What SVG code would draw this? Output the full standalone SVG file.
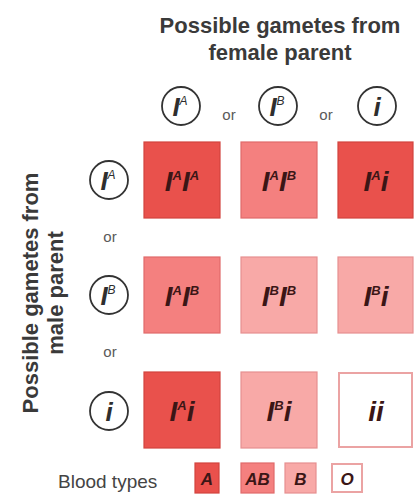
<svg xmlns="http://www.w3.org/2000/svg" width="414" height="495" viewBox="0 0 414 495">
  <style>
    .hdr{font-family:"Liberation Sans",Arial,sans-serif;font-size:22px;font-weight:bold;fill:#3a3a3a;text-anchor:middle}
    .or{font-family:"Liberation Sans",Arial,sans-serif;font-size:15px;fill:#5a5a5a;text-anchor:middle}
    .gam circle{fill:#fff;stroke:#333;stroke-width:1.8}
    .gam text{font-family:"Liberation Sans",Arial,sans-serif;font-style:italic;font-weight:bold;font-size:26px;fill:#2e2e2e;text-anchor:middle}
    .gam .sup{font-size:12px;font-weight:normal}
    .cell text{font-family:"Liberation Sans",Arial,sans-serif;font-style:italic;font-weight:bold;font-size:28px;fill:#3b1616;text-anchor:middle}
    .cell .s{font-size:13px}
    .tA rect{fill:#e9514c;stroke:#d3443e;stroke-width:1.2}
    .tAB rect{fill:#f4807f;stroke:#e06a6a;stroke-width:1.2}
    .tB rect{fill:#f8a9a7;stroke:#e69090;stroke-width:1.2}
    .tO rect{fill:#ffffff;stroke:#eba3a3;stroke-width:2}
    .key{font-family:"Liberation Sans",Arial,sans-serif;font-style:italic;font-weight:bold;font-size:17px;fill:#3b1616;text-anchor:middle}
    .lbl{font-family:"Liberation Sans",Arial,sans-serif;font-size:19px;fill:#444}
  </style>
  <rect width="414" height="495" fill="#fff"/>

  <!-- column heading -->
  <g id="female-heading">
    <text class="hdr" x="280" y="33">Possible gametes from</text>
    <text class="hdr" x="280" y="60">female parent</text>
  </g>

  <!-- row heading (rotated) -->
  <g id="male-heading" transform="translate(38,293) rotate(-90)">
    <text class="hdr" x="0" y="0">Possible gametes from</text>
    <text class="hdr" x="0" y="25">male parent</text>
  </g>

  <!-- female gametes -->
  <g id="f-IA" class="gam">
    <circle cx="181" cy="106" r="19"/>
    <text x="180" y="116">I<tspan class="sup" dy="-11">A</tspan></text>
  </g>
  <text class="or" x="229" y="120">or</text>
  <g id="f-IB" class="gam">
    <circle cx="278" cy="106" r="19"/>
    <text x="277" y="116">I<tspan class="sup" dy="-11">B</tspan></text>
  </g>
  <text class="or" x="326" y="120">or</text>
  <g id="f-i" class="gam">
    <circle cx="377" cy="106" r="19"/>
    <text x="377" y="116">i</text>
  </g>

  <!-- male gametes -->
  <g id="m-IA" class="gam">
    <circle cx="109" cy="180" r="19"/>
    <text x="108" y="190">I<tspan class="sup" dy="-11">A</tspan></text>
  </g>
  <text class="or" x="110" y="242">or</text>
  <g id="m-IB" class="gam">
    <circle cx="109" cy="295" r="19"/>
    <text x="108" y="305">I<tspan class="sup" dy="-11">B</tspan></text>
  </g>
  <text class="or" x="110" y="357">or</text>
  <g id="m-i" class="gam">
    <circle cx="109" cy="411" r="19"/>
    <text x="109" y="421">i</text>
  </g>

  <!-- Punnett square -->
  <g id="c11" class="cell tA">
    <rect x="144" y="142" width="76" height="76"/>
    <text x="182" y="191">I<tspan class="s" dy="-11">A</tspan><tspan dy="11">I</tspan><tspan class="s" dy="-11">A</tspan></text>
  </g>
  <g id="c12" class="cell tAB">
    <rect x="241" y="142" width="76" height="76"/>
    <text x="279" y="191">I<tspan class="s" dy="-11">A</tspan><tspan dy="11">I</tspan><tspan class="s" dy="-11">B</tspan></text>
  </g>
  <g id="c13" class="cell tA">
    <rect x="338" y="142" width="75" height="76"/>
    <text x="376" y="191">I<tspan class="s" dy="-11">A</tspan><tspan dy="11">i</tspan></text>
  </g>

  <g id="c21" class="cell tAB">
    <rect x="144" y="257" width="76" height="76"/>
    <text x="182" y="306">I<tspan class="s" dy="-11">A</tspan><tspan dy="11">I</tspan><tspan class="s" dy="-11">B</tspan></text>
  </g>
  <g id="c22" class="cell tB">
    <rect x="241" y="257" width="76" height="76"/>
    <text x="279" y="306">I<tspan class="s" dy="-11">B</tspan><tspan dy="11">I</tspan><tspan class="s" dy="-11">B</tspan></text>
  </g>
  <g id="c23" class="cell tB">
    <rect x="338" y="257" width="75" height="76"/>
    <text x="376" y="306">I<tspan class="s" dy="-11">B</tspan><tspan dy="11">i</tspan></text>
  </g>

  <g id="c31" class="cell tA">
    <rect x="144" y="372" width="76" height="76"/>
    <text x="182" y="421">I<tspan class="s" dy="-11">A</tspan><tspan dy="11">i</tspan></text>
  </g>
  <g id="c32" class="cell tB">
    <rect x="241" y="372" width="76" height="76"/>
    <text x="279" y="421">I<tspan class="s" dy="-11">B</tspan><tspan dy="11">i</tspan></text>
  </g>
  <g id="c33" class="cell tO">
    <rect x="339" y="373" width="73" height="74"/>
    <text x="376" y="421">ii</text>
  </g>

  <!-- legend -->
  <g id="legend">
    <text class="lbl" x="58" y="488">Blood types</text>
    <g class="tA"><rect x="195" y="463" width="24" height="30"/><text class="key" x="207" y="485">A</text></g>
    <g class="tAB"><rect x="241" y="463" width="33" height="30"/><text class="key" x="257.5" y="485">AB</text></g>
    <g class="tB"><rect x="285" y="463" width="31" height="30"/><text class="key" x="300.5" y="485">B</text></g>
    <g class="tO"><rect x="332" y="464" width="30" height="28"/><text class="key" x="347" y="485">O</text></g>
  </g>
</svg>
